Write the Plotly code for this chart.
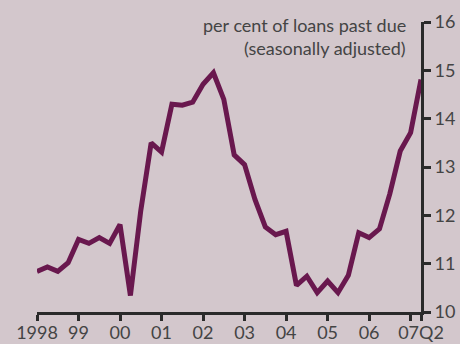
import plotly.graph_objects as go

# quarterly, 1998Q1 .. 2007Q2
years = list(range(1998, 2008))
quarters = [y + q / 4 for y in years for q in range(4)][:38]
past_due = [10.84, 10.93, 10.84, 11.02,
            11.50, 11.42, 11.54, 11.42,
            11.81, 10.34, 12.10, 13.50,
            13.31, 14.30, 14.28, 14.34,
            14.71, 14.95, 14.40, 13.25,
            13.05, 12.33, 11.76, 11.60,
            11.67, 10.55, 10.74, 10.40,
            10.64, 10.40, 10.76, 11.64,
            11.54, 11.72, 12.45, 13.33,
            13.71, 14.81]

tick_vals = years + [2007.25]
tick_text = ["1998", "99", "00", "01", "02", "03", "04", "05", "06", "", "07Q2"]

bg = "#d3c7cc"
ink = "#2a2a2a"
font = "Lato"

fig = go.Figure()
fig.add_trace(go.Scatter(x=quarters, y=past_due, mode="lines",
                         line=dict(color="#69184e", width=5)))

fig.update_layout(
    width=460, height=344,
    margin=dict(l=37, r=39, t=22, b=32),
    paper_bgcolor=bg, plot_bgcolor=bg,
    showlegend=False,
    font=dict(family=font, size=17, color=ink),
)
fig.update_xaxes(range=[1998, 2007.25], tickvals=tick_vals, ticktext=tick_text,
                 automargin=False, ticklabelstandoff=-4,
                 showgrid=False, zeroline=False, showline=True, linecolor=ink,
                 linewidth=3, ticks="outside", ticklen=6, tickwidth=3,
                 tickcolor=ink, tickfont=dict(size=18, color="#444"))
fig.update_yaxes(range=[10, 16], side="right", dtick=1, automargin=False,
                 showgrid=False, zeroline=False, showline=True, linecolor=ink,
                 linewidth=3, ticks="outside", ticklen=7, tickwidth=3,
                 tickcolor=ink, tickfont=dict(size=18, color="#444"))

fig.add_annotation(x=0.966, y=0.99, xref="paper", yref="paper",
                   xanchor="right", yanchor="middle", showarrow=False,
                   text="per cent of loans past due", font=dict(size=18, color="#444"))
fig.add_annotation(x=0.966, y=0.91, xref="paper", yref="paper",
                   xanchor="right", yanchor="middle", showarrow=False,
                   text="(seasonally adjusted)", font=dict(size=18, color="#444"))

fig.write_html("out.html", config={"displayModeBar": False},
               post_script="document.body.style.margin='0';")
